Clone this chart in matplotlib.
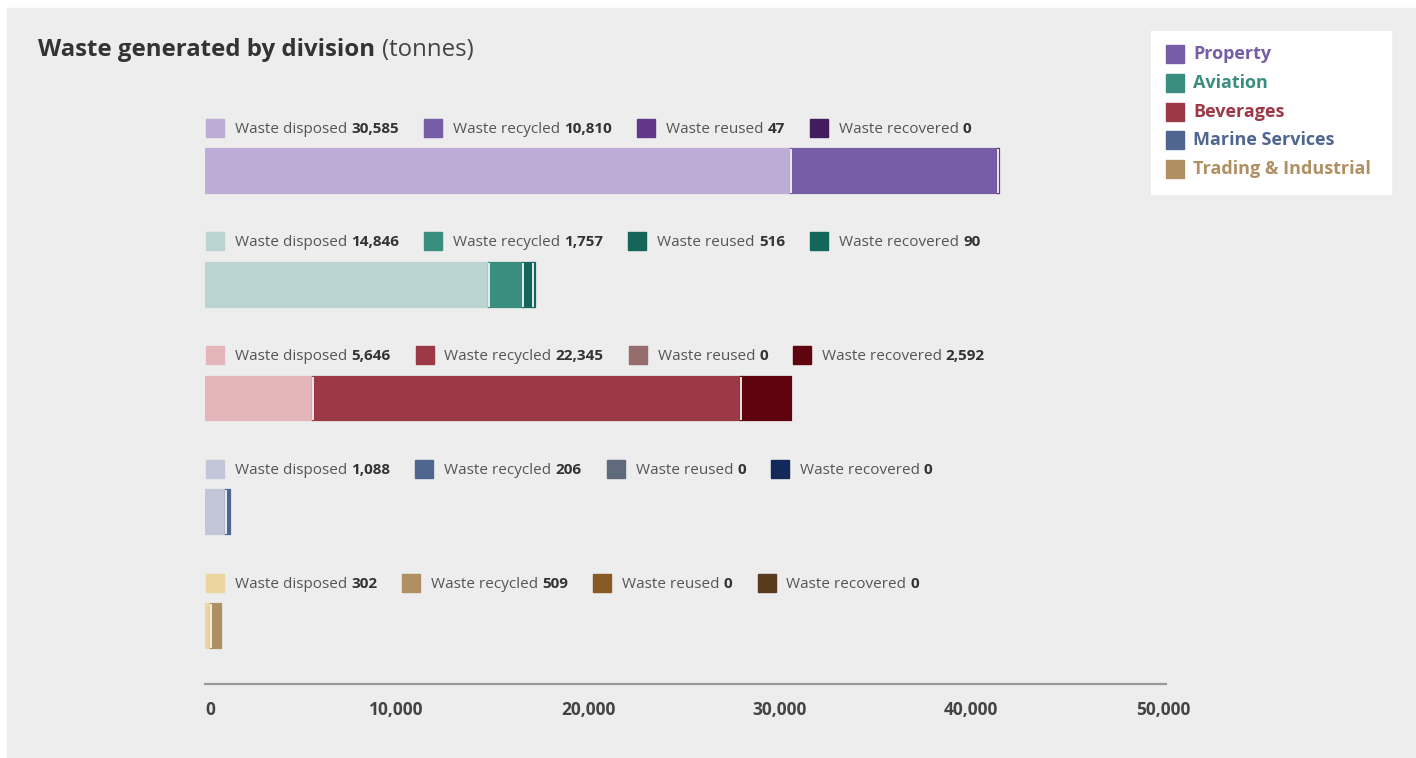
import matplotlib.pyplot as plt
import matplotlib.patches as mpatches
import numpy as np

plt.rcParams['font.family'] = ['Open Sans', 'DejaVu Sans']

W, H = 1416, 758

divisions = ['Property', 'Aviation', 'Beverages', 'Marine Services', 'Trading & Industrial']
kinds = ['Waste disposed', 'Waste recycled', 'Waste reused', 'Waste recovered']
disposed = [30585, 14846, 5646, 1088, 302]
recycled = [10810, 1757, 22345, 206, 509]
reused = [47, 516, 0, 0, 0]
recovered = [0, 90, 2592, 0, 0]

main_colors = ['#775ca6', '#3a8e80', '#9b3946', '#4f6690', '#b08f62']
shades = [
    ['#bdacd6', '#775ca6', '#64368a', '#431c5d'],
    ['#b9d4d1', '#3a8e80', '#14655a', '#14655a'],
    ['#e4b6b9', '#9b3946', '#966c6c', '#5f040e'],
    ['#c3c5d8', '#4f6690', '#5f6a7c', '#12295a'],
    ['#ecd59f', '#b08f62', '#8a5a26', '#583a1c'],
]
xticks = [0, 10000, 20000, 30000, 40000, 50000]

BG = '#ededed'


def px(x, y):
    # figure pixels measured from top-left -> figure fraction
    return x / W, 1 - y / H


def main():
    fig = plt.figure(figsize=(W / 100, H / 100), dpi=100, facecolor='white')
    fig.add_artist(mpatches.Rectangle(px(7, H), (W - 7) / W, (H - 8) / H,
                                      transform=fig.transFigure, color=BG, zorder=-10))

    ax = fig.add_axes([205 / W, 1 - 684 / H, 961 / W, 584 / H])
    ax.set_facecolor('none')
    ax.set_xlim(0, 50000 * 961 / 958)
    ax.set_ylim(4.51, -0.624)

    values = np.array([disposed, recycled, reused, recovered]).T
    bar_h = 0.386
    for i in range(len(divisions)):
        left = 0
        for k in range(len(kinds)):
            v = values[i, k]
            if v > 0:
                ax.barh(i, v, left=left, height=bar_h, color=shades[i][k],
                        edgecolor=shades[i][k], linewidth=1.6)
                if left > 0:
                    ax.plot([left, left], [i - bar_h / 2, i + bar_h / 2],
                            color='#f6f6f6', lw=1.3, solid_capstyle='butt')
            left += v

    for s in ['top', 'right', 'left']:
        ax.spines[s].set_visible(False)
    ax.spines['bottom'].set_color('#999999')
    ax.spines['bottom'].set_linewidth(1.6)
    ax.set_yticks([])
    ax.set_xticks(xticks)
    ax.set_xticklabels(['{:,}'.format(t) for t in xticks], fontsize=12.5,
                       fontweight='bold', color='#444444')
    ax.get_xticklabels()[0].set_horizontalalignment('left')
    ax.tick_params(axis='x', length=0, pad=12)

    # title
    t = fig.text(*px(38, 56), 'Waste generated by division', fontsize=17.3,
                 fontweight='bold', color='#333333', va='baseline')
    fig.canvas.draw()
    r = fig.canvas.get_renderer()
    bb = t.get_window_extent(r)
    fig.text(bb.x1 / W + 7 / W, 1 - 56 / H, '(tonnes)', fontsize=17.3,
             color='#444444', va='baseline')

    # inline legends per division row (flowed like html)
    for i in range(len(divisions)):
        ypx = ax.transData.transform((0, i - bar_h - 0.005))[1] - 1
        yf = ypx / H
        x = 206.0
        for k in range(len(kinds)):
            fig.add_artist(mpatches.Rectangle((x / W, yf - 9 / H), 18 / W, 18 / H,
                                              transform=fig.transFigure,
                                              color=shades[i][k]))
            t1 = fig.text((x + 29) / W, yf - 5 / H, kinds[k],
                          fontsize=11, color='#555555', va='baseline')
            b1 = t1.get_window_extent(r)
            t2 = fig.text((b1.x1 + 4) / W, yf - 5 / H, '{:,}'.format(values[i, k]),
                          fontsize=11, fontweight='bold', color='#333333', va='baseline')
            b2 = t2.get_window_extent(r)
            x = b2.x1 + 25

    # division legend box
    fig.add_artist(mpatches.Rectangle(px(1151, 194), 240 / W, 163 / H,
                                      transform=fig.transFigure, color='white'))
    for j, (name, c) in enumerate(zip(divisions, main_colors)):
        y = 54 + j * 28.8
        fig.add_artist(mpatches.Rectangle(px(1166, y + 9), 18 / W, 18 / H,
                                          transform=fig.transFigure, color=c))
        fig.text(*px(1193, y + 5), name, fontsize=13, fontweight='bold',
                 color=c, va='baseline')

    fig.savefig('out.png', dpi=100, facecolor=fig.get_facecolor())


if __name__ == '__main__':
    main()
